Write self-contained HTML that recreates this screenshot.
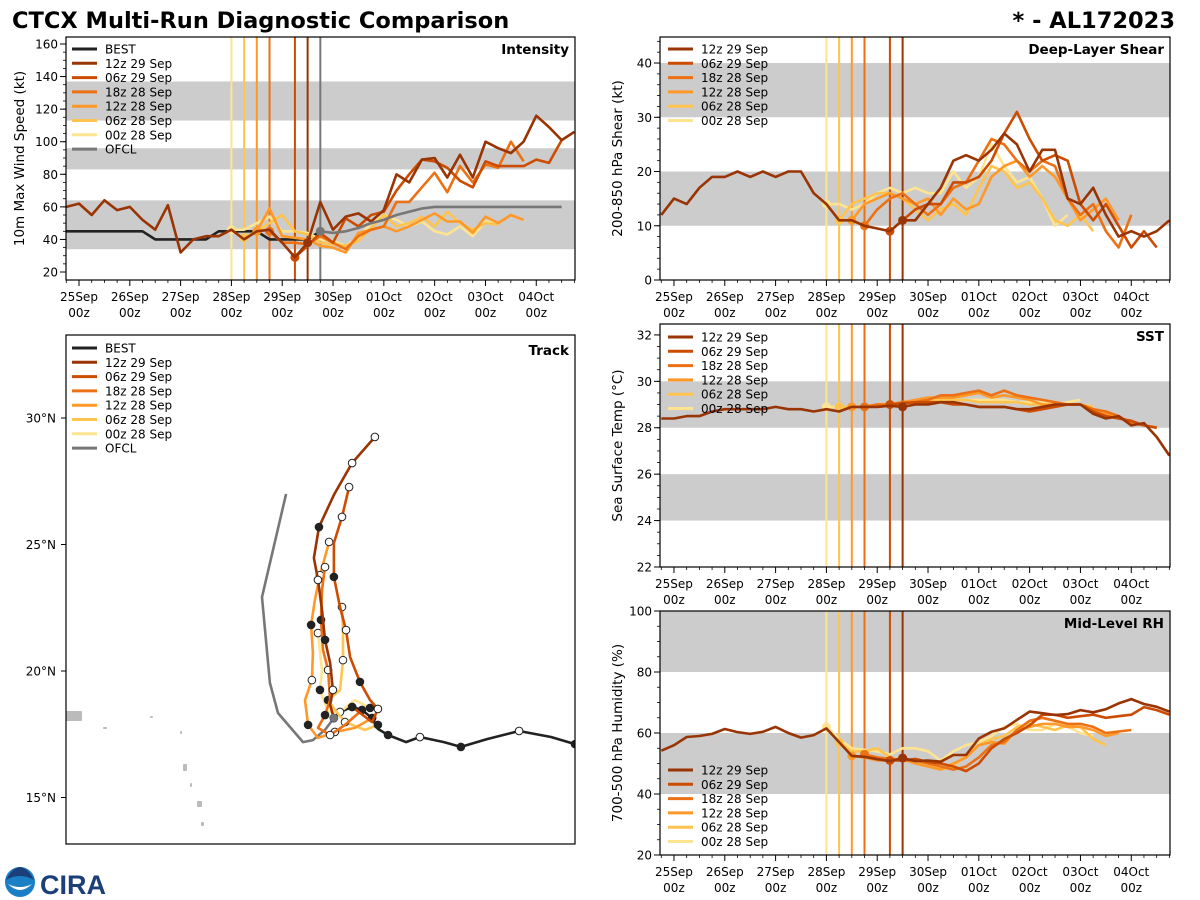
<!DOCTYPE html>
<html><head><meta charset="utf-8"><style>
html,body{margin:0;padding:0;background:#fff;}
svg{display:block;font-family:"DejaVu Sans","Liberation Sans",sans-serif;}
</style></head><body>
<svg id="fig" width="1200" height="900" viewBox="0 0 1200 900" xmlns="http://www.w3.org/2000/svg">
<text x="12" y="28" font-size="22.5" font-weight="bold" fill="#000">CTCX Multi-Run Diagnostic Comparison</text>
<text x="1175" y="28" font-size="22.5" font-weight="bold" fill="#000" text-anchor="end">* - AL172023</text>
<g>
<circle cx="20" cy="882" r="15" fill="#1a7fc4"/>
<path d="M6,880 Q20,872 34,880 Q28,868 20,867 Q12,868 6,880Z" fill="#1c3f7a"/>
<path d="M8,884 Q20,896 32,884 Q20,890 8,884Z" fill="#fff"/>
<text x="40" y="894" font-size="27" font-weight="bold" fill="#1c3f7a" font-family="Liberation Sans,sans-serif">CIRA</text>
</g>
</svg>
<script>
// ---------- data ----------
const runNames = ['12z 29 Sep','06z 29 Sep','18z 28 Sep','12z 28 Sep','06z 28 Sep','00z 28 Sep'];
const runColors = ['#993404','#cc4c02','#ec7014','#fe9929','#fec44f','#fee391'];
const runInitHours = [108,102,90,84,78,72];
const ofclInitHour = 114;
const dayLabels = ['25Sep','26Sep','27Sep','28Sep','29Sep','30Sep','01Oct','02Oct','03Oct','04Oct'];
// intensity (kt), 6-hourly from start hour
const intBestStart = -6;
const intBest = [45,45,45,45,45,45,45,40,40,40,40,40,45,45,45,45,40,40,40,40,45];
const intOfclStart = 114;
const intOfcl = [45,44,45,47,50,52,55,57,59,60,60,60,60,60,60,60,60,60,60,60];
const intStarts = [-6,102,90,84,78,72];
const int12z29 = [60,62,55,64,58,60,52,46,61,32,40,42,42,46,40,45,46,38,29,38,63,46,54,56,51,58,80,75,89,90,78,92,78,100,96,93,100,116,109,101,106];
const int06z29 = [29,36,44,38,53,48,55,57,70,80,89,88,84,76,72,88,85,85,85,89,87,101];
const int18z28 = [45,38,38,37,42,38,34,42,46,48,63,63,72,81,69,85,75,86,84,100,88];
const int12z28 = [45,59,42,41,40,36,35,32,44,46,48,45,48,52,56,51,51,44,54,50,55,52];
const int06z28 = [41,45,50,55,45,43,38,37,36,39,47,55,48,50,54,48,57,50,46,50,49];
const int00z28 = [46,46,50,54,45,45,44,40,39,36,41,50,55,52,48,51,45,43,48,42,51,50];
// shear (kt)
const shrStarts = [-6,102,90,84,78,72];
const shr12z29 = [12,15,14,17,19,19,20,19,20,19,20,20,16,14,11,11,10,9.5,9,11,11,14,17,22,23,22,24,27,25,20,24,24,15,14,17,12,8,9,8,9,11];
const shr06z29 = [9,11,13,14,14,18,18,19,22,27,31,26,22,23,22,14,11,14,10,6,9,6];
const shr18z28 = [10,13,15,16,14,12,14,17,18,22,26,25,22,20,22,21,15,12,14,9,6,12];
const shr12z28 = [11,14,15,16,15,14,15,12,15,13,14,19,21,22,19,21,19,15,11,13,15,11];
const shr06z28 = [11,14,15,16,16,15,13,11,13,14,12,17,21,20,17,18,15,11,10,12,9];
const shr00z28 = [14,14,13,14,16,17,16,17,16,16,20,17,19,25,21,18,19,15,10,12];
// SST (C)
const sstStarts = [-6,102,90,84,78,72];
const sst12z29 = [28.4,28.4,28.5,28.5,28.7,28.8,28.8,28.8,28.8,28.9,28.8,28.8,28.7,28.8,28.7,28.9,28.9,28.9,28.95,28.9,29.0,29.0,29.1,29.1,29.0,28.9,28.9,28.9,28.8,28.8,28.9,29.0,29.0,29.0,28.6,28.4,28.5,28.1,28.2,27.6,26.8];
const sst06z29 = [29.0,29.05,29.1,29.1,29.1,29.0,29.0,28.9,28.9,28.9,28.8,28.7,28.8,28.9,29.0,29.0,28.7,28.5,28.4,28.3,28.1,28.0];
const sst18z28 = [28.9,29.0,29.0,29.1,29.1,29.2,29.4,29.4,29.5,29.6,29.4,29.6,29.4,29.3,29.2,29.1,29.0,29.0,28.8,28.7,28.5,28.2,28.1,28.0];
const sst12z28 = [28.9,28.9,29.0,29.0,29.1,29.2,29.3,29.3,29.3,29.4,29.5,29.3,29.4,29.3,29.2,29.0,29.0,29.0,29.0,28.8,28.6,28.5];
const sst06z28 = [28.9,28.9,28.9,29.0,29.0,29.1,29.1,29.2,29.2,29.2,29.2,29.1,29.1,29.1,29.1,29.0,29.0,28.9,29.0,29.0,28.9];
const sst00z28 = [28.9,28.9,28.9,28.9,29.0,29.0,29.0,29.0,29.1,29.1,29.2,29.2,29.2,29.2,29.2,29.1,29.1,29.1,29.0,29.1,29.2];
// mid-level RH (%)
const rhStarts = [-6,102,90,84,78,72];
const rh12z29 = [54.2,56,58.7,59,59.7,61.3,60.3,59.7,60.4,62,60,58.5,59.3,61.5,57,52.5,52.2,51.4,50.8,51.8,50.8,51,50.6,52.8,52.8,58.2,60.4,61.5,64.3,67,66.5,65.9,66.2,67.5,66.8,67.8,69.7,71.1,69.5,68.6,67];
const rh06z29 = [51,51,51.5,50.5,50,49,47.5,50,55,58,60,62.5,66,66,65,65.5,66,65,65.5,66,68.5,67.5,66];
const rh18z28 = [53,52,51.5,51,51,50,49,48,49,52,56,57,61,64,65,64,63,63,62,60,60.5,61];
const rh12z28 = [52.5,52,51,51,51.5,50,49,48,50,52,56,57,56.5,61,62,63,63,62,62,61,59,60];
const rh06z28 = [57,54,54,55,52,51,50.5,50,48,49,53,56,58,59,62,63,62,61,62.5,62,58,56];
const rh00z28 = [62,58,55,54.5,54,53,55,55,54,51,54,56,57,59,62,63,61,61,63,62,60,59];
// tracks (lon deg E, lat deg N)
const trkBestLon = [-45.0,-45.95,-47.21,-48.48,-49.51,-50.18,-51.13,-51.68,-52.39,-52.79,-53.02,-53.42,-53.81,-54.29,-54.53];
const trkBestLat = [17.11,17.39,17.63,17.31,17.0,17.19,17.39,17.19,17.47,17.71,18.14,18.46,18.58,18.38,18.14];
const trkOfclLon = [-54.53,-54.88,-55.36,-55.75,-56.74,-57.06,-57.37,-56.42];
const trkOfclLat = [18.14,17.67,17.27,17.19,18.34,19.53,22.92,27.0];
const trk12z29Lon = [-54.53,-54.68,-54.57,-54.68,-54.88,-55.0,-55.16,-55.32,-55.12,-54.53,-53.81,-52.91];
const trk12z29Lat = [18.14,18.66,19.25,20.32,21.23,22.41,23.6,24.47,25.69,26.96,28.22,29.25];
const trk06z29Lon = [-53.81,-53.02,-52.79,-53.10,-53.50,-53.89,-54.05,-54.29,-54.53,-54.53,-54.21,-53.93];
const trk06z29Lat = [18.58,17.98,18.5,18.85,19.57,20.55,21.62,22.53,23.72,25.06,26.09,27.27];
const trk18z28Lon = [-53.42,-54.09,-54.68,-55.16,-54.88,-54.68,-54.76,-54.96,-55.04,-55.0,-54.88];
const trk18z28Lat = [18.46,17.87,17.47,17.75,18.26,18.85,20.04,20.83,22.02,23.2,24.11];
const trk12z28Lon = [-53.02,-53.70,-54.49,-55.16,-55.55,-55.67,-55.40,-55.36,-55.43,-55.28,-55.08,-54.72];
const trk12z28Lat = [18.14,17.75,17.59,17.35,17.87,18.85,19.64,20.71,21.82,22.81,23.79,25.1];
const trk06z28Lon = [-52.79,-53.30,-54.09,-54.49,-54.76,-54.29,-54.17,-54.17,-54.21];
const trk06z28Lat = [17.87,17.67,17.98,18.46,18.85,19.25,20.43,21.5,22.53];
const trk00z28Lon = [-53.10,-53.70,-54.29,-54.76,-55.08,-55.0,-55.16];
const trk00z28Lat = [18.54,18.85,18.38,18.38,19.25,20.04,21.5];
const latTicks = [15,20,25,30];

// ---------- drawing ----------
const NS='http://www.w3.org/2000/svg';
const svg=document.getElementById('fig');
function mk(tag,attrs,parent){const e=document.createElementNS(NS,tag);for(const k in attrs)e.setAttribute(k,attrs[k]);(parent||svg).appendChild(e);return e;}

function makePanel(o){
  const g=mk('g',{});
  
  
  const X=h=>o.x0+(h-o.hmin)*(o.x1-o.x0)/(o.hmax-o.hmin);
  const Y=v=>o.y1-(v-o.vmin)*(o.y1-o.y0)/(o.vmax-o.vmin);
  const cid='clip-'+o.name;
  const cp=mk('clipPath',{id:cid},g);mk('rect',{x:o.x0,y:o.y0,width:o.x1-o.x0,height:o.y1-o.y0},cp);
  const plot=mk('g',{'clip-path':'url(#'+cid+')'},g);
  o.bands.forEach(b=>{
    const r=mk('rect',{x:o.x0,y:Y(b[1]),width:o.x1-o.x0,height:Y(b[0])-Y(b[1]),fill:'#cccccc'},plot);
    
    
  });
  return {g,plot,X,Y,o};
}
function axes(P){
  const o=P.o,g=P.g,X=P.X,Y=P.Y;
  mk('rect',{x:o.x0,y:o.y0,width:o.x1-o.x0,height:o.y1-o.y0,fill:'none',stroke:'#000','stroke-width':1.2},g);
  for(let v=o.vmin0;v<=o.vmax+1e-6;v+=o.minor){if(Y(v)<o.y0-0.5||Y(v)>o.y1+0.5)continue;mk('line',{x1:o.x0-3,x2:o.x0,y1:Y(v),y2:Y(v),stroke:'#000','stroke-width':0.8},g);}
  o.yticks.forEach(v=>{
    mk('line',{x1:o.x0-6,x2:o.x0,y1:Y(v),y2:Y(v),stroke:'#000','stroke-width':1},g);
    const t=mk('text',{x:o.x0-8,y:Y(v)+4.5,'font-size':12,'text-anchor':'end'},g);t.textContent=v;
    
    
  });
  for(let h=0;h<=o.hmax;h+=6){const maj=h%24===0;mk('line',{x1:X(h),x2:X(h),y1:o.y1,y2:o.y1+(maj?6:3),stroke:'#000','stroke-width':maj?1:0.8},g);}
  for(let h=-6;h>o.hmin;h-=6){mk('line',{x1:X(h),x2:X(h),y1:o.y1,y2:o.y1+3,stroke:'#000','stroke-width':0.8},g);}
  if(o.xlabels){dayLabels.forEach((d,i)=>{
    const t=mk('text',{x:X(i*24),y:o.y1+21,'font-size':12,'text-anchor':'middle'},g);t.textContent=d;
    
    
    const t2=mk('text',{x:X(i*24),y:o.y1+37,'font-size':12,'text-anchor':'middle'},g);t2.textContent='00z';
    
    
  });}
  const yl=mk('text',{x:0,y:0,'font-size':13.5,'text-anchor':'middle',transform:`translate(${o.ylx},${(o.y0+o.y1)/2}) rotate(-90)`},g);yl.textContent=o.ylabel;
  
  
  const tt=mk('text',{x:o.x1-6,y:o.y0+17,'font-size':13.5,'font-weight':'bold','text-anchor':'end'},g);tt.textContent=o.title;
  
  
}
function vlines(P,withOfcl){
  runInitHours.slice().reverse().forEach((h,k)=>{
    const i=runInitHours.length-1-k;
    const l=mk('line',{x1:P.X(h),x2:P.X(h),y1:P.o.y0,y2:P.o.y1,stroke:runColors[i],'stroke-width':2},P.plot);
    
    
  });
  if(withOfcl){const l=mk('line',{x1:P.X(ofclInitHour),x2:P.X(ofclInitHour),y1:P.o.y0,y2:P.o.y1,stroke:'#777','stroke-width':2},P.plot);
    
    }
}
function series(P,vals,start,color,name,dotHour){
  const pts=vals.map((v,i)=>P.X(start+i*6).toFixed(1)+','+P.Y(v).toFixed(1)).join(' ');
  const pl=mk('polyline',{points:pts,fill:'none',stroke:color,'stroke-width':2.6,'stroke-linejoin':'round'},P.plot);
  
  
  if(dotHour!==null){const i=Math.round((dotHour-start)/6);if(i>=0&&i<vals.length){
    const c=mk('circle',{cx:P.X(dotHour),cy:P.Y(vals[i]),r:4.5,fill:color},P.plot);
    
    }}
}
function legend(x,y,entries,colors){
  const g=mk('g',{});
  
  
  entries.forEach((e,i)=>{
    const yy=y+i*14.3;
    mk('line',{x1:x,x2:x+25,y1:yy,y2:yy,stroke:colors[i],'stroke-width':3},g);
    const t=mk('text',{x:x+33,y:yy+4.5,'font-size':12},g);t.textContent=e;
    
    
  });
}

// Intensity panel
const PI=makePanel({name:'intensity-panel',x0:66,x1:575,y0:37,y1:280,hmin:-6.14,hmax:234.3,vmin:15.09,vmax:164.3,bands:[[34,64],[83,96],[113,137]]});
Object.assign(PI.o,{vmin0:20,minor:5,yticks:[20,40,60,80,100,120,140,160],xlabels:true,ylx:24,ylabel:'10m Max Wind Speed (kt)',title:'Intensity'});
vlines(PI,true);
const intRuns=[int12z29,int06z29,int18z28,int12z28,int06z28,int00z28];
series(PI,intBest,intBestStart,'#222222','best-intensity-line',null);
for(let i=5;i>=0;i--)series(PI,intRuns[i],intStarts[i],runColors[i],'intensity-run-'+i,runInitHours[i]);
series(PI,intOfcl,intOfclStart,'#777777','ofcl-intensity-line',intOfclStart);
axes(PI);
legend(72,49,['BEST'].concat(runNames,['OFCL']),['#222222'].concat(runColors,['#777777']));

// Shear panel
const PS=makePanel({name:'shear-panel',x0:660,x1:1170,y0:37,y1:280,hmin:-6.6,hmax:234.3,vmin:0,vmax:44.8,bands:[[10,20],[30,40]]});
Object.assign(PS.o,{vmin0:0,minor:2,yticks:[0,10,20,30,40],xlabels:true,ylx:622,ylabel:'200-850 hPa Shear (kt)',title:'Deep-Layer Shear'});
vlines(PS,false);
const shrRuns=[shr12z29,shr06z29,shr18z28,shr12z28,shr06z28,shr00z28];
for(let i=5;i>=0;i--)series(PS,shrRuns[i],shrStarts[i],runColors[i],'shear-run-'+i,runInitHours[i]);
axes(PS);
legend(668,49,runNames,runColors);

// SST panel
const PT=makePanel({name:'sst-panel',x0:660,x1:1170,y0:324,y1:567,hmin:-6.6,hmax:234.3,vmin:22,vmax:32.47,bands:[[24,26],[28,30]]});
Object.assign(PT.o,{vmin0:22,minor:0.5,yticks:[22,24,26,28,30,32],xlabels:true,ylx:622,ylabel:'Sea Surface Temp (°C)',title:'SST'});
vlines(PT,false);
const sstRuns=[sst12z29,sst06z29,sst18z28,sst12z28,sst06z28,sst00z28];
for(let i=5;i>=0;i--)series(PT,sstRuns[i],sstStarts[i],runColors[i],'sst-run-'+i,runInitHours[i]);
axes(PT);
legend(668,337,runNames,runColors);

// RH panel
const PR=makePanel({name:'rh-panel',x0:660,x1:1170,y0:611,y1:855,hmin:-6.6,hmax:234.3,vmin:20,vmax:100,bands:[[40,60],[80,100]]});
Object.assign(PR.o,{vmin0:20,minor:5,yticks:[20,40,60,80,100],xlabels:true,ylx:622,ylabel:'700-500 hPa Humidity (%)',title:'Mid-Level RH'});
vlines(PR,false);
const rhRuns=[rh12z29,rh06z29,rh18z28,rh12z28,rh06z28,rh00z28];
for(let i=5;i>=0;i--)series(PR,rhRuns[i],rhStarts[i],runColors[i],'rh-run-'+i,runInitHours[i]);
axes(PR);
legend(668,770,runNames,runColors);

// Track panel
(function(){
  const x0=66,x1=575,y0=335,y1=844;
  const g=mk('g',{});
  
  
  const LX=lon=>575-(-45-lon)*25.3;
  const LY=lat=>671-(lat-20)*25.3;
  const cp=mk('clipPath',{id:'clip-track'},g);mk('rect',{x:x0,y:y0,width:x1-x0,height:y1-y0},cp);
  const plot=mk('g',{'clip-path':'url(#clip-track)'},g);
  [[66,711,16,10],[103,727,4,2],[150,716,3,2],[183,764,4,7],[190,783,2,4],[197,801,5,6],[201,822,3,4],[180,731,2,3]].forEach(r=>{
    const e=mk('rect',{x:r[0],y:r[1],width:r[2],height:r[3],fill:'#bbbbbb',rx:1},plot);
    
    
  });
  function trk(lons,lats,color,name,markEvery){
    const pts=lons.map((lo,i)=>LX(lo).toFixed(1)+','+LY(lats[i]).toFixed(1)).join(' ');
    const pl=mk('polyline',{points:pts,fill:'none',stroke:color,'stroke-width':2.6,'stroke-linejoin':'round'},plot);
    
    
    if(markEvery){lons.forEach((lo,i)=>{
      if(i%markEvery!==0&&i!==lons.length-1)return;
      const open=(Math.floor(i/markEvery)%2===1)||i===lons.length-1;
      const c=mk('circle',{cx:LX(lo),cy:LY(lats[i]),r:3.8,fill:open?'#fff':'#222',stroke:'#222','stroke-width':1},plot);
      
      
    });}
  }
  trk(trkOfclLon,trkOfclLat,'#777777','ofcl-track',0);
  trk(trkBestLon,trkBestLat,'#222222','best-track',2);
  trk(trk00z28Lon,trk00z28Lat,runColors[5],'track-00z28',2);
  trk(trk06z28Lon,trk06z28Lat,runColors[4],'track-06z28',2);
  trk(trk12z28Lon,trk12z28Lat,runColors[3],'track-12z28',2);
  trk(trk18z28Lon,trk18z28Lat,runColors[2],'track-18z28',2);
  trk(trk06z29Lon,trk06z29Lat,runColors[1],'track-06z29',2);
  trk(trk12z29Lon,trk12z29Lat,runColors[0],'track-12z29',2);
  const oc=mk('circle',{cx:LX(trkOfclLon[0]),cy:LY(trkOfclLat[0]),r:4,fill:'#777'},plot);
  
  
  mk('rect',{x:x0,y:y0,width:x1-x0,height:y1-y0,fill:'none',stroke:'#000','stroke-width':1.2},g);
  latTicks.forEach(l=>{
    mk('line',{x1:x0-5,x2:x0,y1:LY(l),y2:LY(l),stroke:'#000'},g);
    const t=mk('text',{x:x0-10,y:LY(l)+4.5,'font-size':12,'text-anchor':'end'},g);t.textContent=l+'°N';
    
    
  });
  const tt=mk('text',{x:x1-6,y:y0+20,'font-size':13.5,'font-weight':'bold','text-anchor':'end'},g);tt.textContent='Track';
  
  
  legend(72,348,['BEST'].concat(runNames,['OFCL']),['#222222'].concat(runColors,['#777777']));
})();
</script>
</body></html>
